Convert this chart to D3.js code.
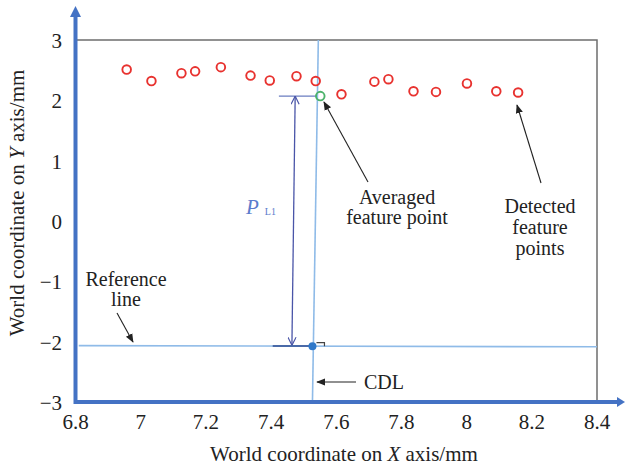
<!DOCTYPE html>
<html>
<head>
<meta charset="utf-8">
<script src="https://cdn.jsdelivr.net/npm/d3@7"></script>
<style>
  html, body { margin: 0; padding: 0; background: #fff; }
  svg { display: block; }
</style>
</head>
<body>
<svg id="chart" width="625" height="467"></svg>
<script>
// Axis ticks
const xTicks = [6.8, 7, 7.2, 7.4, 7.6, 7.8, 8, 8.2, 8.4];
const yTicks = [-3, -2, -1, 0, 1, 2, 3];

// Detected feature points (mm)
const detectedX = [6.957, 7.033, 7.125, 7.167, 7.246, 7.337, 7.396, 7.478, 7.537,
                   7.616, 7.717, 7.760, 7.837, 7.906, 8.001, 8.091, 8.158];
const detectedY = [2.51, 2.32, 2.45, 2.48, 2.55, 2.41, 2.33, 2.40, 2.32,
                   2.10, 2.31, 2.35, 2.15, 2.14, 2.28, 2.15, 2.13];

// Averaged feature point and its foot on the reference line
const averagedPoint = [7.551, 2.07];
const footPoint = [7.527, -2.075];

// Center dividing line (CDL) and reference line end points
const cdlLine = [[7.545, 3], [7.527, -3]];
const referenceLine = [[6.81, -2.065], [8.4, -2.085]];

// P_L1 dimension: arrow ends and extension lines
const dimArrow = [[7.474, 2.07], [7.464, -2.06]];
const dimTopExt = [[7.424, 2.07], [7.541, 2.07]];
const dimBottomExt = [[7.405, -2.07], [7.527, -2.07]];

const serif = "Liberation Serif";

const svg = d3.select("#chart");
const x = d3.scaleLinear().domain([6.8, 8.4]).range([75.5, 597]);
const y = d3.scaleLinear().domain([-3, 3]).range([402, 40]);

const axisBlue = "#4472c4";
const lightBlue = "#8fbbe8";
const dimBlue = "#4a55a8";
const ink = "#222";

const defs = svg.append("defs");
defs.append("marker").attr("id", "blackHead")
  .attr("viewBox", "0 0 10 10").attr("refX", 9).attr("refY", 5)
  .attr("markerWidth", 9).attr("markerHeight", 9).attr("orient", "auto")
  .attr("markerUnits", "userSpaceOnUse")
  .append("path").attr("d", "M0,1 L10,5 L0,9 Z").attr("fill", ink);
defs.append("marker").attr("id", "openHead")
  .attr("viewBox", "0 0 10 10").attr("refX", 10).attr("refY", 5)
  .attr("markerWidth", 9).attr("markerHeight", 9).attr("orient", "auto")
  .attr("markerUnits", "userSpaceOnUse")
  .append("path").attr("d", "M1,0.5 L10,5 L1,9.5").attr("fill", "none")
  .attr("stroke", dimBlue).attr("stroke-width", 1.3);

const line = d3.line().x(d => x(d[0])).y(d => y(d[1]));

// Plot frame (top and right)
svg.append("path")
  .attr("d", `M${x(6.8)},${y(3)} H${x(8.4)} V${y(-3)}`)
  .attr("fill", "none").attr("stroke", "#6e6e6e").attr("stroke-width", 1.5);

// Reference line and CDL
svg.append("path").attr("d", line(referenceLine))
  .attr("stroke", lightBlue).attr("stroke-width", 1.6).attr("fill", "none");
svg.append("path").attr("d", line(cdlLine))
  .attr("stroke", lightBlue).attr("stroke-width", 1.6).attr("fill", "none");

// P_L1 dimension: extension lines and double-headed arrow
svg.append("path").attr("d", line(dimTopExt))
  .attr("stroke", "#6a7cc0").attr("stroke-width", 1.3).attr("fill", "none");
svg.append("path").attr("d", line(dimBottomExt))
  .attr("stroke", "#4a6aa8").attr("stroke-width", 2).attr("fill", "none");
svg.append("path").attr("d", line(dimArrow))
  .attr("stroke", dimBlue).attr("stroke-width", 1.3).attr("fill", "none")
  .attr("marker-end", "url(#openHead)");
svg.append("path").attr("d", line([dimArrow[1], dimArrow[0]]))
  .attr("stroke", "none").attr("fill", "none")
  .attr("marker-end", "url(#openHead)");

const pl1 = svg.append("text").attr("x", x(7.323)).attr("y", y(0.12))
  .attr("font-family", serif).attr("fill", "#5b7ccc");
pl1.append("tspan").text("P").attr("font-style", "italic").attr("font-size", 21);
pl1.append("tspan").text("L1").attr("font-size", 10).attr("dx", 6).attr("dy", 1);

// Right-angle mark at the foot point
const fx = x(footPoint[0]), fy = y(footPoint[1]);
svg.append("path").attr("d", `M${fx + 4},${fy - 3.5} H${fx + 12} V${fy}`)
  .attr("stroke", "#444").attr("stroke-width", 1.2).attr("fill", "none");

// Detected feature points
svg.append("g").selectAll("circle")
  .data(detectedX.map((v, i) => [v, detectedY[i]]))
  .join("circle")
  .attr("cx", d => x(d[0])).attr("cy", d => y(d[1])).attr("r", 4.3)
  .attr("fill", "none").attr("stroke", "#e8322f").attr("stroke-width", 1.9);

// Averaged feature point
svg.append("circle").attr("cx", x(averagedPoint[0])).attr("cy", y(averagedPoint[1]))
  .attr("r", 4.3).attr("fill", "none").attr("stroke", "#4db36b").attr("stroke-width", 1.9);

// Foot point
svg.append("circle").attr("cx", fx).attr("cy", fy).attr("r", 4).attr("fill", "#2f78c9");

// Axes with arrowheads
svg.append("line").attr("x1", x(6.8)).attr("x2", 617).attr("y1", y(-3)).attr("y2", y(-3))
  .attr("stroke", axisBlue).attr("stroke-width", 4);
svg.append("path").attr("d", `M617,${y(-3) - 5} L625,${y(-3)} L617,${y(-3) + 5} Z`).attr("fill", axisBlue);
svg.append("line").attr("x1", x(6.8)).attr("x2", x(6.8)).attr("y1", y(-3) + 2).attr("y2", 16)
  .attr("stroke", axisBlue).attr("stroke-width", 4);
svg.append("path").attr("d", `M${x(6.8) - 5.5},17 L${x(6.8)},6 L${x(6.8) + 5.5},17 Z`).attr("fill", axisBlue);

// Tick labels
const fmt = v => (v < 0 ? "\u2212" + Math.abs(v) : String(v));
svg.append("g").selectAll("text").data(xTicks).join("text")
  .attr("x", d => x(d)).attr("y", 429).attr("text-anchor", "middle")
  .attr("font-family", serif).attr("font-size", 21).attr("fill", ink).text(fmt);
svg.append("g").selectAll("text").data(yTicks).join("text")
  .attr("x", 62).attr("y", d => y(d) + 8).attr("text-anchor", "end")
  .attr("font-family", serif).attr("font-size", 21).attr("fill", ink).text(fmt);

// Axis titles
const xt = svg.append("text").attr("x", 344).attr("y", 461).attr("text-anchor", "middle")
  .attr("font-family", serif).attr("font-size", 21).attr("fill", ink);
xt.append("tspan").text("World coordinate on ");
xt.append("tspan").text("X").attr("font-style", "italic");
xt.append("tspan").text(" axis/mm");
const yt = svg.append("text").attr("transform", "translate(24,203) rotate(-90)")
  .attr("text-anchor", "middle").attr("font-family", serif).attr("font-size", 21).attr("fill", ink);
yt.append("tspan").text("World coordinate on ");
yt.append("tspan").text("Y").attr("font-style", "italic");
yt.append("tspan").text(" axis/mm");

// Annotations
function label(lines, cx, cy0, gap) {
  const t = svg.append("text").attr("text-anchor", "middle").attr("font-family", serif)
    .attr("font-size", 20).attr("fill", ink);
  lines.forEach((s, i) => t.append("tspan").attr("x", cx).attr("y", cy0 + i * gap).text(s));
}
label(["Reference", "line"], 126, 286, 20);
label(["Averaged", "feature point"], 397, 204, 20);
label(["Detected", "feature", "points"], 540, 213, 21);
label(["CDL"], 384, 389, 0);

function pointer(x1, y1, x2, y2) {
  svg.append("line").attr("x1", x1).attr("y1", y1).attr("x2", x2).attr("y2", y2)
    .attr("stroke", ink).attr("stroke-width", 1.1).attr("marker-end", "url(#blackHead)");
}
pointer(117, 313, 133, 342);
pointer(368, 182, 324, 102);
pointer(541, 183, 517, 105);
pointer(356, 382, 317, 382);
</script>
</body>
</html>
